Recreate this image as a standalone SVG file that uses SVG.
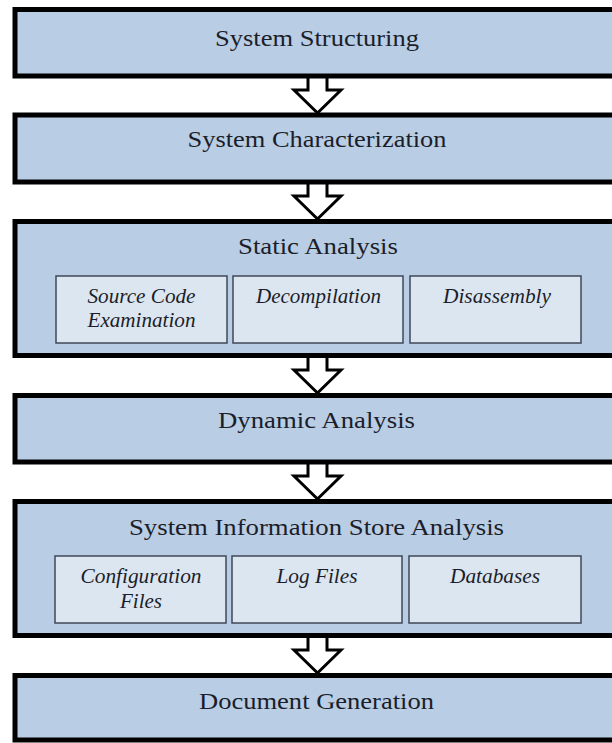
<svg xmlns="http://www.w3.org/2000/svg" width="612" height="743" viewBox="0 0 612 743">
<style>
.box{fill:#b9cde4;stroke:#000;stroke-width:5}
.sub{fill:#dce6f1;stroke:#3f4858;stroke-width:1.5}
.t{font-family:"Liberation Serif","Times New Roman",serif;font-size:24px;fill:#1b1e2a;text-anchor:middle}
.s{font-family:"Liberation Serif","Times New Roman",serif;font-size:20px;font-style:italic;fill:#1b1e2a;text-anchor:middle}
.arr{fill:#fff;stroke:#000;stroke-width:3;stroke-linejoin:miter}
</style>
<defs>
<path id="arrow" class="arr" d="M308,0 V13 H294 L317.5,36 L341,13 H327 V0"/>
</defs>
<rect width="612" height="743" fill="#fff"/>
<g id="connectors">
<use href="#arrow" transform="translate(0,77)"/>
<use href="#arrow" transform="translate(0,183)"/>
<use href="#arrow" transform="translate(0,357)"/>
<use href="#arrow" transform="translate(0,463)"/>
<use href="#arrow" transform="translate(0,637)"/>
</g>
<g id="system-structuring">
<rect class="box" x="15" y="9.5" width="620" height="66.5"/>
<text class="t" x="317" y="46" textLength="204" lengthAdjust="spacingAndGlyphs">System Structuring</text>
</g>
<g id="system-characterization">
<rect class="box" x="15" y="115" width="620" height="67"/>
<text class="t" x="317" y="147" textLength="259" lengthAdjust="spacingAndGlyphs">System Characterization</text>
</g>
<g id="static-analysis">
<rect class="box" x="15" y="221.5" width="620" height="134"/>
<text class="t" x="318" y="254" textLength="160" lengthAdjust="spacingAndGlyphs">Static Analysis</text>
<g id="source-code-examination">
<rect class="sub" x="56" y="276" width="171" height="67"/>
<text class="s" x="141.5" y="303" textLength="108" lengthAdjust="spacingAndGlyphs">Source Code</text>
<text class="s" x="141.5" y="327" textLength="108" lengthAdjust="spacingAndGlyphs">Examination</text>
</g>
<g id="decompilation">
<rect class="sub" x="233" y="276" width="170" height="67"/>
<text class="s" x="318.5" y="303" textLength="125" lengthAdjust="spacingAndGlyphs">Decompilation</text>
</g>
<g id="disassembly">
<rect class="sub" x="410" y="276" width="171" height="67"/>
<text class="s" x="497" y="303" textLength="108" lengthAdjust="spacingAndGlyphs">Disassembly</text>
</g>
</g>
<g id="dynamic-analysis">
<rect class="box" x="15" y="395.5" width="620" height="66.5"/>
<text class="t" x="316.5" y="428" textLength="197" lengthAdjust="spacingAndGlyphs">Dynamic Analysis</text>
</g>
<g id="system-information-store-analysis">
<rect class="box" x="15" y="501.5" width="620" height="134"/>
<text class="t" x="316.5" y="535" textLength="375" lengthAdjust="spacingAndGlyphs">System Information Store Analysis</text>
<g id="configuration-files">
<rect class="sub" x="55" y="556" width="171" height="67"/>
<text class="s" x="141" y="583" textLength="121" lengthAdjust="spacingAndGlyphs">Configuration</text>
<text class="s" x="141" y="608" textLength="42" lengthAdjust="spacingAndGlyphs">Files</text>
</g>
<g id="log-files">
<rect class="sub" x="232" y="556" width="170" height="67"/>
<text class="s" x="317" y="583" textLength="81" lengthAdjust="spacingAndGlyphs">Log Files</text>
</g>
<g id="databases">
<rect class="sub" x="409" y="556" width="172" height="67"/>
<text class="s" x="495" y="583" textLength="90" lengthAdjust="spacingAndGlyphs">Databases</text>
</g>
</g>
<g id="document-generation">
<rect class="box" x="15" y="675.5" width="620" height="64.5"/>
<text class="t" x="316.5" y="709" textLength="235" lengthAdjust="spacingAndGlyphs">Document Generation</text>
</g>
</svg>
